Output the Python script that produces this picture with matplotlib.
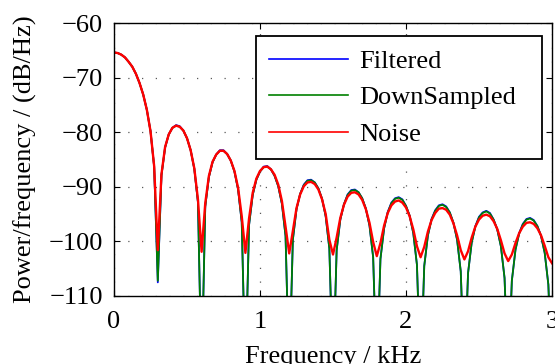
import numpy as np
import matplotlib
matplotlib.use("Agg")
import matplotlib.pyplot as plt

downsampled_db = [
    -65.4, -65.5, -65.8, -66.3, -67.1, -68.0, -69.3, -71.0, -73.1, -75.9, -79.8, -86.3,
    -107.2, -87.9, -82.8, -80.4, -79.2, -78.8, -79.0, -79.7, -81.1, -83.3, -86.7, -92.8,
    -125.0, -93.6, -88.2, -85.5, -84.1, -83.4, -83.4, -84.0, -85.2, -87.2, -90.5, -96.5,
    -125.0, -97.0, -91.5, -88.7, -87.2, -86.4, -86.3, -86.8, -88.0, -89.9, -93.1, -99.0,
    -125.0, -99.7, -94.1, -91.3, -89.7, -88.9, -88.8, -89.2, -90.3, -92.2, -95.4, -101.3,
    -125.0, -101.6, -96.0, -93.2, -91.5, -90.7, -90.6, -91.0, -92.1, -94.0, -97.1, -102.9,
    -125.0, -103.2, -97.6, -94.7, -93.0, -92.2, -92.0, -92.4, -93.5, -95.3, -98.5, -104.3,
    -125.0, -104.5, -98.9, -96.0, -94.4, -93.5, -93.3, -93.7, -94.7, -96.6, -99.7, -105.5,
    -125.0, -105.8, -100.2, -97.3, -95.6, -94.8, -94.5, -94.9, -96.0, -97.8, -100.9, -106.7,
    -125.0, -107.2, -101.5, -98.6, -96.9, -96.0, -95.8, -96.2, -97.2, -99.0, -102.1, -107.9,
    -125.0,
]

filtered_db = [
    -65.4, -65.5, -65.8, -66.3, -67.1, -68.0, -69.3, -71.0, -73.1, -75.9, -79.8, -86.3,
    -107.5, -87.9, -82.8, -80.4, -79.2, -78.7, -78.9, -79.7, -81.1, -83.3, -86.7, -92.8,
    -125.0, -93.6, -88.2, -85.5, -84.1, -83.3, -83.3, -84.0, -85.2, -87.2, -90.5, -96.5,
    -125.0, -97.0, -91.5, -88.7, -87.2, -86.3, -86.2, -86.8, -88.0, -89.9, -93.1, -99.0,
    -125.0, -99.7, -94.1, -91.3, -89.6, -88.8, -88.7, -89.2, -90.3, -92.2, -95.4, -101.3,
    -125.0, -101.6, -96.0, -93.2, -91.4, -90.6, -90.5, -91.0, -92.1, -94.0, -97.1, -102.9,
    -125.0, -103.2, -97.6, -94.6, -92.9, -92.1, -91.9, -92.3, -93.5, -95.3, -98.5, -104.3,
    -125.0, -104.5, -98.9, -95.9, -94.3, -93.4, -93.2, -93.6, -94.7, -96.6, -99.7, -105.5,
    -125.0, -105.8, -100.2, -97.2, -95.5, -94.7, -94.4, -94.8, -96.0, -97.8, -100.9, -106.7,
    -125.0, -107.2, -101.5, -98.5, -96.8, -95.9, -95.7, -96.1, -97.2, -99.0, -102.1, -107.9,
    -125.0,
]

noise_db = [
    -65.4, -65.5, -65.8, -66.3, -67.1, -68.0, -69.3, -71.0, -73.1, -75.9, -79.8, -86.2,
    -101.6, -87.7, -82.7, -80.4, -79.2, -78.8, -79.0, -79.7, -81.1, -83.3, -86.6, -92.3,
    -101.9, -93.0, -88.0, -85.4, -84.1, -83.4, -83.4, -84.0, -85.2, -87.1, -90.2, -95.4,
    -102.1, -95.8, -91.1, -88.5, -87.1, -86.4, -86.3, -86.8, -87.8, -89.6, -92.6, -97.3,
    -102.2, -98.1, -93.9, -91.4, -89.9, -89.2, -89.1, -89.5, -90.5, -92.3, -95.0, -99.7,
    -102.4, -99.3, -95.7, -93.3, -91.8, -91.1, -91.0, -91.4, -92.4, -94.1, -96.6, -100.1,
    -102.7, -100.3, -97.1, -94.8, -93.4, -92.7, -92.5, -92.9, -93.8, -95.4, -97.8, -100.9,
    -102.9, -101.0, -98.2, -96.1, -94.8, -94.0, -93.9, -94.2, -95.1, -96.7, -98.9, -101.6,
    -103.3, -101.8, -99.3, -97.3, -96.0, -95.3, -95.1, -95.4, -96.3, -97.7, -99.8, -102.2,
    -103.6, -102.4, -100.3, -98.5, -97.3, -96.6, -96.5, -96.8, -97.6, -98.9, -100.8, -102.9,
    -104.0,
]

series_labels = ["Filtered", "DownSampled", "Noise"]
x_ticks = [0, 1, 2, 3]
y_ticks = [-110, -100, -90, -80, -70, -60]

# frequency grid of the samples (kHz)
freq_khz = np.linspace(0.0, 3.0, len(filtered_db))

FS = 19
plt.rcParams["font.family"] = ["Liberation Serif", "DejaVu Serif"]
plt.rcParams["font.size"] = FS
plt.rcParams["axes.unicode_minus"] = True

fig = plt.figure(figsize=(5.55, 3.64), dpi=100)
ax = fig.add_axes([114 / 555, 1 - 296 / 364, (552 - 114) / 555, (296 - 23) / 364])

ax.plot(freq_khz, filtered_db, color=(0, 0, 1), lw=1.3, label=series_labels[0])
ax.plot(freq_khz, downsampled_db, color=(0, 0.5, 0), lw=1.3, label=series_labels[1])
ax.plot(freq_khz, noise_db, color=(1, 0, 0), lw=1.7, label=series_labels[2])

ax.set_xlim(0, 3)
ax.set_ylim(-110, -60)
ax.set_xticks(x_ticks)
ax.set_yticks(y_ticks)
ax.grid(True, linestyle=(0, (1, 10)), color="0.35", linewidth=0.9)
ax.tick_params(direction="in", top=True, right=True, length=4, width=0.8,
               labelsize=FS)
ax.tick_params(axis="x", pad=11)
ax.tick_params(axis="y", pad=8)
for s in ax.spines.values():
    s.set_linewidth(1.0)
    s.set_color("black")

ax.set_xlabel("Frequency / kHz", fontsize=FS, labelpad=9)
ax.set_ylabel("Power/frequency / (dB/Hz)", fontsize=FS, labelpad=8)

leg = ax.legend(loc="upper left", bbox_to_anchor=(0.324, 0.509, 0.653, 0.443),
                mode="expand", borderaxespad=0,
                fancybox=False, framealpha=1, edgecolor="black",
                handlelength=3.0, handletextpad=0.4, labelspacing=0.5,
                borderpad=0.5, fontsize=FS)
leg.get_frame().set_linewidth(1.3)
for line in leg.get_lines():
    line.set_linewidth(1.2)

fig.savefig("out.png", dpi=100)
